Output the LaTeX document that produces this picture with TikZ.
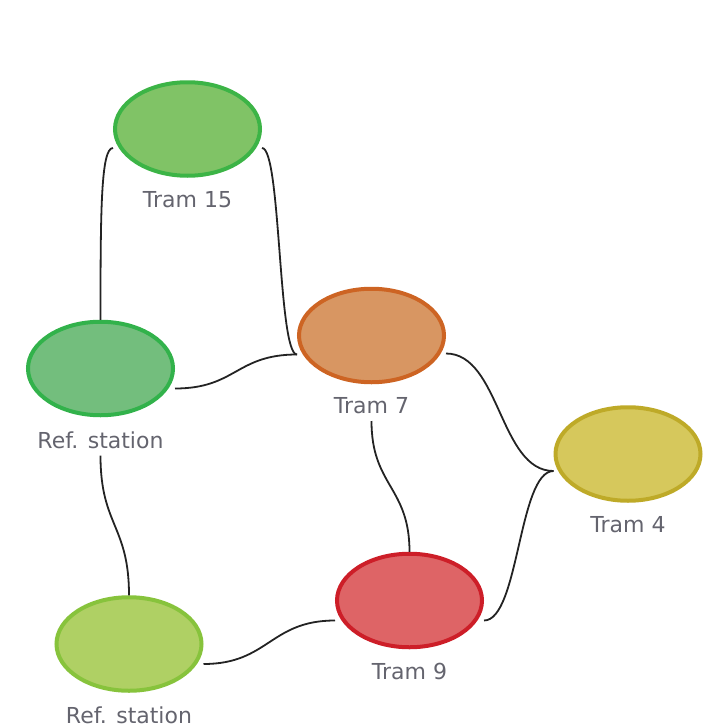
\documentclass[tikz,border=0pt]{standalone}
\usepackage{fontspec}
\setmainfont{DejaVu Sans}
\usetikzlibrary{shapes.geometric,positioning}

\definecolor{fillA}{RGB}{128,195,102}
\definecolor{lineA}{RGB}{60,180,70}
\definecolor{fillB}{RGB}{216,150,98}
\definecolor{lineB}{RGB}{205,100,35}
\definecolor{fillC}{RGB}{115,190,125}
\definecolor{lineC}{RGB}{50,178,75}
\definecolor{fillD}{RGB}{214,200,92}
\definecolor{lineD}{RGB}{190,170,40}
\definecolor{fillE}{RGB}{222,100,102}
\definecolor{lineE}{RGB}{205,30,40}
\definecolor{fillF}{RGB}{175,208,100}
\definecolor{lineF}{RGB}{135,195,60}
\definecolor{lblgray}{RGB}{100,100,110}
\definecolor{wire}{RGB}{35,35,35}

\begin{document}
\begin{tikzpicture}[x=1pt, y=-1pt,
  stop/.style={ellipse, minimum width=145pt, minimum height=93.5pt, inner sep=0pt, line width=4pt},
  lbl/.style={inner sep=0pt, text=lblgray, font=\fontsize{22}{26}\selectfont},
  wire/.style={draw=wire, line width=1.8pt}]
\useasboundingbox (0,0) rectangle (707,728);

\node[stop, fill=fillA, draw=lineA] (t15) at (187.5,129) {};
\node[stop, fill=fillB, draw=lineB] (t7) at (371.5,335.5) {};
\node[stop, fill=fillC, draw=lineC] (ref1) at (100.5,368.5) {};
\node[stop, fill=fillD, draw=lineD] (t4) at (628,454) {};
\node[stop, fill=fillE, draw=lineE] (t9) at (409.5,600.5) {};
\node[stop, fill=fillF, draw=lineF] (ref2) at (129,644) {};

\node[lbl, below=14pt of t15] (t15l) {Tram 15};
\node[lbl, below=13pt of t7] (t7l) {Tram 7};
\node[lbl, below=14pt of ref1] (ref1l) {Ref. station};
\node[lbl, below=14pt of t4] (t4l) {Tram 4};
\node[lbl, below=14pt of t9] (t9l) {Tram 9};
\node[lbl, below=14pt of ref2] (ref2l) {Ref. station};

\draw[wire] ([yshift=-19pt]t15.west) .. controls +(-12,0) and +(0,-110) .. (ref1.north);
\draw[wire] ([yshift=-19pt]t15.east) .. controls +(19,0) and +(-19,0) .. ([yshift=-19pt]t7.west);
\draw[wire] ([yshift=-20pt]ref1.east) .. controls +(61,0) and +(-61,0) .. ([yshift=-19pt]t7.west);
\draw[wire] ([yshift=-18pt]t7.east) .. controls +(54,0) and +(-54,0) .. ([yshift=-17pt]t4.west);
\draw[wire] ([yshift=-20pt]t9.east) .. controls +(35,0) and +(-35,0) .. ([yshift=-17pt]t4.west);
\draw[wire] ([yshift=-20pt]ref2.east) .. controls +(65,0) and +(-65,0) .. ([yshift=-20pt]t9.west);
\draw[wire] ([yshift=-7pt]ref1l.south) .. controls +(0,70) and +(0,-70) .. (ref2.north);
\draw[wire] ([yshift=-7pt]t7l.south) .. controls +(0,65) and +(0,-65) .. (t9.north);
\end{tikzpicture}
\end{document}
